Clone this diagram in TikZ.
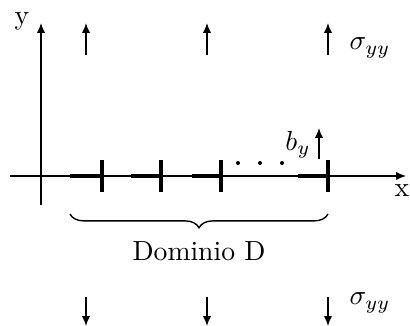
\documentclass[tikz,border=0pt]{standalone}
\usetikzlibrary{arrows.meta,decorations.pathreplacing}
\begin{document}
\begin{tikzpicture}[x=0.362pt,y=-0.362pt,
  thinline/.style={line width=0.5pt},
  arr/.style={thinline,-{Latex[length=3.6pt,width=3pt]}},
  seg/.style={line width=1.25pt},
  lbl/.style={inner sep=0pt}]
\useasboundingbox (0,0) rectangle (410,326);
% axes
\coordinate (ystart) at (41,205);
\coordinate (yend) at (41,23);
\coordinate (xstart) at (10,176);
\coordinate (xend) at (406,176);
\draw[arr] (ystart) -- (yend);
\draw[arr] (xstart) -- (xend);
\node[lbl] (ylab) at (22,21) {y};
\node[lbl] (xlab) at (402,191) {x};
% elements
\foreach \a/\b/\n in {70/102/1,131/161/2,192/221/3,298/328/4}{
  \coordinate (s\n) at (\a,176);
  \coordinate (e\n) at (\b,176);
  \draw[seg] (s\n) -- (e\n);
  \draw[seg] (\b,160) -- (\b,192);
}
\foreach \x in {238,260,282}{\fill (\x,163) circle (2);}
% body force
\coordinate (bs) at (319,159);
\coordinate (be) at (319,128);
\draw[arr] (bs) -- (be);
\node[lbl] (by) at (298,145) {$b_y$};
% top and bottom stresses
\foreach \x/\n in {86/1,207/2,328/3}{
  \coordinate (ts\n) at (\x,55);
  \coordinate (te\n) at (\x,23);
  \draw[arr] (ts\n) -- (te\n);
  \coordinate (bs\n) at (\x,297);
  \coordinate (bt\n) at (\x,326);
  \draw[arr] (bs\n) -- (bt\n);
}
\node[lbl] (sigtop) at (370,48) {$\sigma_{yy}$};
\node[lbl] (sigbot) at (370,303) {$\sigma_{yy}$};
% brace
\draw[thinline,decorate,decoration={brace,mirror,amplitude=5pt}] (s1 |- 0,214) -- (e4 |- 0,214);
\node[lbl] (dom) at (199,251) {Dominio D};
\end{tikzpicture}
\end{document}
